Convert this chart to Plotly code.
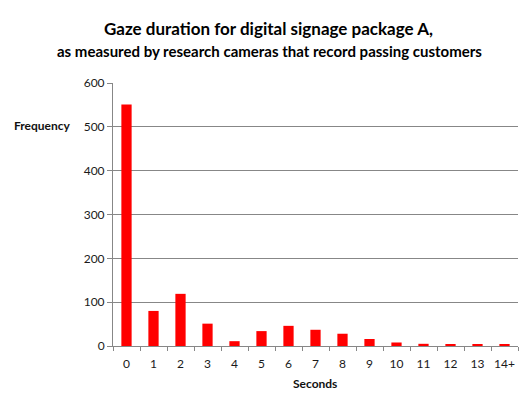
import plotly.graph_objects as go

categories = ["0", "1", "2", "3", "4", "5", "6", "7", "8", "9", "10", "11", "12", "13", "14+"]
frequency = [551, 80, 119, 51, 11, 34, 46, 37, 28, 16, 8, 5, 3, 3, 3]
y_ticks = [0, 100, 200, 300, 400, 500, 600]

title_main = "Gaze duration for digital signage package A,"
title_sub = "as measured by research cameras that record passing customers"

font_family = "Lato, 'Open Sans', sans-serif"
axis_gray = "#878787"

fig = go.Figure(
    go.Bar(
        x=categories,
        y=frequency,
        marker=dict(color="#ff0000", line=dict(width=0)),
    )
)

fig.update_layout(
    width=527,
    height=395,
    margin=dict(l=113, r=9, t=83, b=49),
    paper_bgcolor="white",
    plot_bgcolor="white",
    bargap=0.62,
    showlegend=False,
    font=dict(family=font_family, size=11, color="#1a1a1a"),
)

fig.update_xaxes(
    type="category",
    showline=True,
    linecolor=axis_gray,
    linewidth=1,
    ticks="outside",
    tickson="boundaries",
    ticklen=4,
    tickcolor=axis_gray,
    tickangle=0,
    ticklabelstandoff=7,
    tickfont=dict(size=12, color="#1a1a1a"),
    showgrid=False,
)

fig.update_yaxes(
    range=[0, 600],
    tickvals=y_ticks,
    showline=True,
    linecolor=axis_gray,
    linewidth=1,
    ticks="outside",
    ticklen=5,
    tickcolor=axis_gray,
    showgrid=True,
    gridcolor=axis_gray,
    gridwidth=1,
    zeroline=False,
    tickfont=dict(size=12, color="#1a1a1a"),
)

fig.add_annotation(
    text="<b>" + title_main + "</b>",
    xref="paper", yref="paper",
    x=(268 - 113) / 405, y=1 + (83 - 28) / 263,
    showarrow=False, xanchor="center", yanchor="middle",
    font=dict(size=17, color="#000"),
)
fig.add_annotation(
    text="<b>" + title_sub + "</b>",
    xref="paper", yref="paper",
    x=(269 - 113) / 405, y=1 + (83 - 51) / 263,
    showarrow=False, xanchor="center", yanchor="middle",
    font=dict(size=15, color="#000"),
)
fig.add_annotation(
    text="<b>Frequency</b>",
    xref="paper", yref="paper",
    x=(42 - 113) / 405, y=(346 - 126) / 263,
    showarrow=False, xanchor="center", yanchor="middle",
    font=dict(size=12, color="#111"),
)
fig.add_annotation(
    text="<b>Seconds</b>",
    xref="paper", yref="paper",
    x=(315 - 113) / 405, y=(346 - 383) / 263,
    showarrow=False, xanchor="center", yanchor="middle",
    font=dict(size=12, color="#111"),
)

fig.write_html(
    "out.html",
    config={"displayModeBar": False},
    post_script="document.body.style.margin='0';",
)
